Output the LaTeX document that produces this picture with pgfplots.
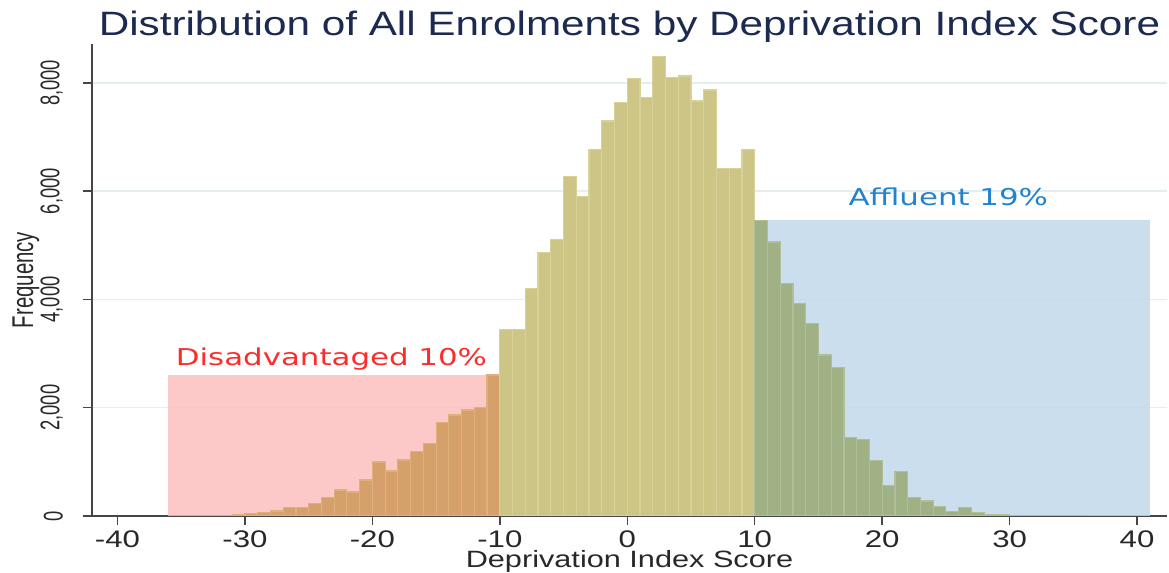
\documentclass[border=0pt]{standalone}
\usepackage{fontspec}
\setmainfont[FakeStretch=1.25]{Liberation Sans}
\newfontfamily\yfont[FakeStretch=0.68]{Liberation Sans}
\newfontfamily\vfont[FakeStretch=1.33]{DejaVu Sans}
\newfontfamily\xfont[FakeStretch=1.3]{Liberation Sans}
\usepackage{pgfplots}
\pgfplotsset{compat=1.18}

\definecolor{titlec}{RGB}{28,42,80}
\definecolor{tickc}{RGB}{40,40,40}
\definecolor{axisc}{RGB}{70,70,70}
\definecolor{gridc}{RGB}{228,237,240}
\definecolor{pinkc}{RGB}{252,190,190}
\definecolor{bluec}{RGB}{193,216,235}
\definecolor{olive}{RGB}{204,197,133}
\definecolor{oliveedge}{RGB}{216,210,152}
\definecolor{tanc}{RGB}{213,160,105}
\definecolor{tanedge}{RGB}{222,176,126}
\definecolor{greenc}{RGB}{160,177,134}
\definecolor{greenedge}{RGB}{176,191,152}
\definecolor{redtxt}{RGB}{250,45,45}
\definecolor{bluetxt}{RGB}{35,130,205}

\begin{document}
\begin{tikzpicture}
\begin{axis}[
  at={(0,0)}, anchor=south west,
  scale only axis, width=537.5pt, height=236pt,
  xmin=-42, xmax=42.35, ymin=0, ymax=8720,
  axis lines*=left,
  axis line style={draw=axisc, line width=0.75pt, -},
  xtick={-40,-30,...,40}, ytick={0,2000,...,8000},
  tick align=outside, major tick length=4.5pt,
  tick style={draw=axisc, line width=0.75pt},
  ymajorgrids, grid style={draw=gridc, line width=0.75pt},
  x tick label style={font=\xfont\fontsize{12}{14}\selectfont, text=tickc, inner sep=1pt},
  xticklabel shift=1.5pt,
  y tick label style={font=\yfont\fontsize{13.5}{15}\selectfont, rotate=90, anchor=south, text=tickc},
  yticklabel shift=6.5pt,
  /pgf/number format/1000 sep={,},
  /pgf/number format/assume math mode=true,
  title={Distribution of All Enrolments by Deprivation Index Score},
  every axis title/.style={at={(axis description cs:0.5,1)}, anchor=base, yshift=4pt,
    font=\fontsize{16.9}{19}\selectfont, text=titlec},
  xlabel={Deprivation Index Score},
  every axis x label/.style={at={(axis description cs:0.5,-0.097)}, anchor=center, inner sep=0pt,
    font=\xfont\fontsize{11.8}{14}\selectfont, text=tickc},
  ylabel={Frequency},
  every axis y label/.style={at={(axis description cs:-0.0614,0.5)}, rotate=90, anchor=center,
    font=\yfont\fontsize{15}{17}\selectfont, text=tickc},
]
% shaded groups
\addplot[ybar interval, fill=pinkc, fill opacity=0.85, draw=none] coordinates {(-36,2606) (-10,2606)};
\addplot[ybar interval, fill=bluec, fill opacity=0.85, draw=none] coordinates {(10,5463) (41,5463)};
% disadvantaged bins
\addplot[ybar interval, fill=tanc, draw=tanedge, line width=0.6pt] coordinates {
(-36,3) (-35,5) (-34,6) (-33,8) (-32,12) (-31,25) (-30,43) (-29,62) (-28,92)
(-27,154) (-26,154) (-25,228) (-24,339) (-23,481) (-22,444) (-21,666) (-20,999)
(-19,832) (-18,1036) (-17,1185) (-16,1339) (-15,1728) (-14,1864) (-13,1957)
(-12,2006) (-11,2606) (-10,0)};
% middle bins
\addplot[ybar interval, fill=olive, draw=oliveedge, line width=0.6pt] coordinates {
(-10,3439) (-9,3439) (-8,4210) (-7,4865) (-6,5111) (-5,6266) (-4,5908) (-3,6778)
(-2,7297) (-1,7636) (0,8087) (1,7729) (2,8488) (3,8106) (4,8130) (5,7667)
(6,7871) (7,6421) (8,6421) (9,6778) (10,0)};
% affluent bins
\addplot[ybar interval, fill=greenc, draw=greenedge, line width=0.6pt] coordinates {
(10,5463) (11,5062) (12,4291) (13,3932) (14,3562) (15,2976) (16,2747) (17,1450)
(18,1420) (19,1031) (20,568) (21,815) (22,345) (23,278) (24,170) (25,90)
(26,150) (27,62) (28,31) (29,18) (30,12) (31,8) (32,5) (33,4) (34,3) (35,2) (36,0)};
\node[anchor=base west, inner sep=0pt, text=redtxt, font=\vfont\fontsize{11.6}{13}\selectfont]
  at (axis cs:-35.45,2772) {Disadvantaged 10\%};
\node[anchor=base west, inner sep=0pt, text=bluetxt, font=\vfont\fontsize{11.6}{13}\selectfont]
  at (axis cs:17.33,5730) {Affluent 19\%};
\end{axis}
\pgfresetboundingbox
\path[use as bounding box] (-46pt,-28.5pt) rectangle (538.5pt,258pt);
\end{tikzpicture}
\end{document}
